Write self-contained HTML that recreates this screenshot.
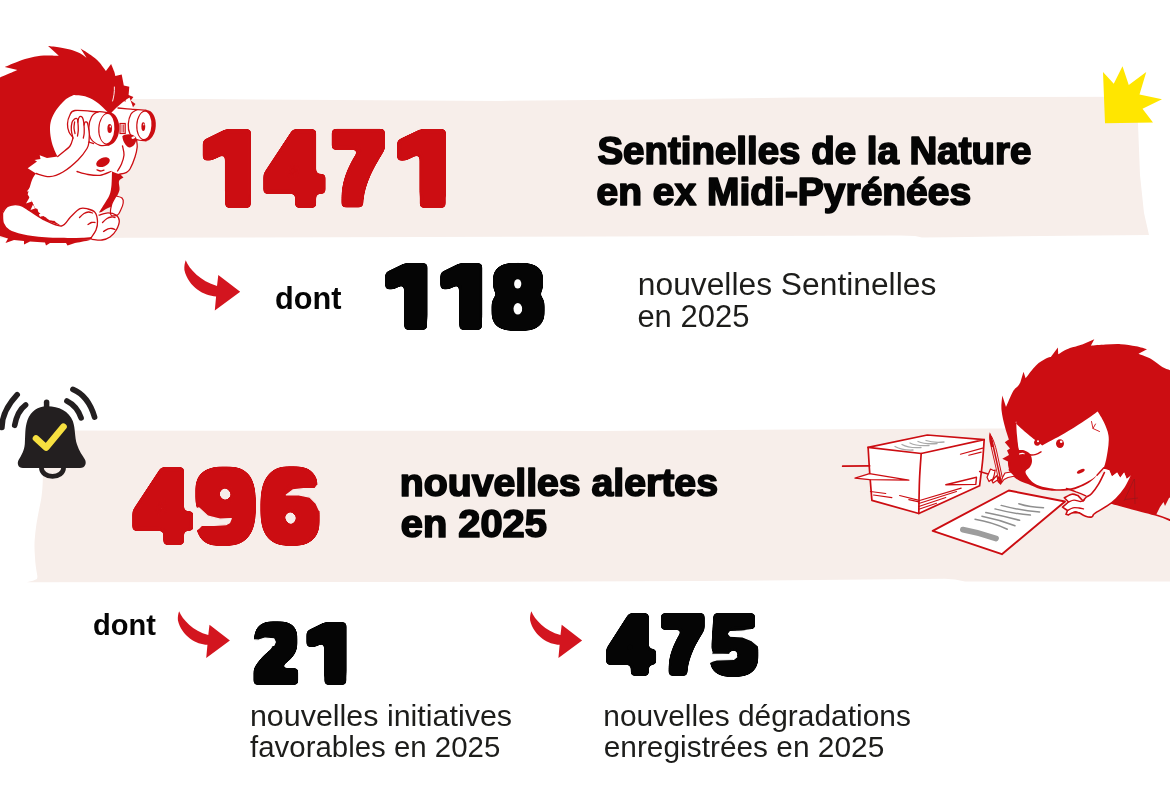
<!DOCTYPE html>
<html lang="fr"><head><meta charset="utf-8"><title>Sentinelles de la Nature</title>
<style>html,body{margin:0;padding:0;background:#fff;overflow:hidden}svg{display:block}text{font-family:"Liberation Sans",sans-serif}</style>
</head><body>
<svg width="1170" height="800" viewBox="0 0 1170 800">
<path d="M0,99.2 L200,99.1 L500,100.9 L650,99.4 L800,97.5 L1137,96.7 L1138,124 L1140,175 L1144,213 L1149,235 L1000,236.5 L950,237.3 L922,237.6 L915,235.9 L900,235.4 L700,236.2 L130,237.8 L0,238.2 Z" fill="#f7eeea"/>
<path d="M44,430.6 L600,430.9 L800,429.6 L1000,428.5 L1170,428 L1170,581.5 L965,581.5 L955,579.6 L945,578.7 L700,581 L400,582 L26.5,582.3 L33,580.8 L37,579 C37.6,577 37.4,576 37,574 C36,568 35.2,563 35,557.5 C34.6,552 34.3,546 34.6,541 C35,535.5 35.6,530 36.3,525 C37.2,519.5 38.2,514 39.2,509 C40.5,503 41.6,497.5 42,492.5 C42.5,488 42.7,484 42.8,480 C43,476 43,473 43,470 Z" fill="#f7eeea"/>
<polygon points="1103,72 1113.75,83.75 1122.5,66.25 1128.75,85 1146.25,72 1139.5,94.5 1162,99.25 1142.5,108.75 1153,122.5 1105,123.25" fill="#ffe600"/>
<path transform="translate(184.4,260.3) scale(1.0)" d="M1.3,0 C5,9 16,21 32.6,25.6 L33.9,14.6 L55.8,31.5 L30.4,50.1 L31.7,36.1 C20,36 4,27 0,9.8 C-0.3,6 0.3,3 1.3,0 Z" fill="#d3151f"/>
<path transform="translate(177.9,611.2) scale(0.932)" d="M1.3,0 C5,9 16,21 32.6,25.6 L33.9,14.6 L55.8,31.5 L30.4,50.1 L31.7,36.1 C20,36 4,27 0,9.8 C-0.3,6 0.3,3 1.3,0 Z" fill="#d3151f"/>
<path transform="translate(530.1,611.2) scale(0.932)" d="M1.3,0 C5,9 16,21 32.6,25.6 L33.9,14.6 L55.8,31.5 L30.4,50.1 L31.7,36.1 C20,36 4,27 0,9.8 C-0.3,6 0.3,3 1.3,0 Z" fill="#d3151f"/>
<g fill="none" stroke="#231f20" stroke-linecap="round" stroke-width="5.6"><path d="M17.2,394.7 Q2,411 1.9,427.5"/><path d="M25.6,405 Q17.35,411 14.7,425.3"/><path d="M72.9,389.4 Q88.25,395.75 94.6,417.1"/><path d="M66.9,401 Q77,406 81.1,417.9"/><path d="M46.6,402.2 L46.6,408" stroke-width="5.5"/><path d="M41.5,468.3 A11,8.1 0 0 0 63.5,468.3" stroke-width="4.8"/></g>
<path d="M46.5,406.3 C58,406 69,411 72.9,421.3 C75.5,429 74.5,437 77,444.6 C79,451 82.5,455.6 84.9,459.5 C86.8,463 85.5,468 80,468 L23,468 C18,468 16.8,463.5 18.6,460 C21.5,455 24.2,451 24.8,444 C25.5,434 24.8,428 27.5,419.9 C31,411 38,406.5 46.5,406.3 Z" fill="#231f20"/>
<path d="M36,438.4 L46.1,447.6 L63.5,426.7" fill="none" stroke="#f7e040" stroke-width="6.6" stroke-linecap="round" stroke-linejoin="round"/>
<path d="M0.0,77.5 C1.3,76.9 5.1,75.2 8.0,74.0 C10.9,72.8 15.9,70.7 17.5,70.0 L4.8,66.9 C7.1,66.0 14.3,62.8 18.8,61.2 C23.2,59.7 27.1,58.4 31.2,57.5 C35.4,56.6 39.2,55.9 43.8,55.6 C48.3,55.3 56.2,55.8 58.8,55.8 L48.1,46.0 C50.1,46.2 56.4,46.9 60.0,47.5 C63.6,48.1 66.7,48.6 70.0,49.6 C73.3,50.6 77.2,51.9 80.0,53.3 C82.8,54.7 85.4,57.0 86.5,57.8 L80.6,48.6 C82.3,49.7 87.7,52.9 90.8,55.1 C93.9,57.3 96.5,59.4 99.0,62.0 C101.5,64.7 104.8,69.5 105.9,71.0 L111.1,64.1 C111.6,65.3 113.5,69.6 114.2,71.6 C114.9,73.6 115.1,75.3 115.3,76.0 L121.7,74.4 L123.8,85.4 L129.3,86.8 L128.6,95.0 L133.4,97.0 L130.7,100.5 L135.5,104.0 L132.0,108.5 C130.8,110.4 127.0,113.1 125.0,120.0 C123.0,126.9 121.2,141.3 120.0,150.0 C118.8,158.7 118.3,168.3 118.0,172.0 L123.5,177.5 C122.8,178.1 119.7,178.9 119.0,181.0 C118.3,183.1 120.0,187.2 119.5,190.0 C119.0,192.8 117.0,195.8 116.0,198.0 C115.0,200.2 113.9,202.2 113.5,203.0 L111.5,206.5 C110.6,206.9 107.9,207.9 106.0,209.0 C104.1,210.1 101.0,212.3 100.0,213.0 C100.0,216.8 101.7,231.5 100.0,236.0 C98.3,240.5 94.2,238.8 90.0,240.0 C85.8,241.2 77.5,242.5 75.0,243.0 L67.5,245.5 L66.0,243.0 L50.0,243.0 L46.0,245.5 L45.0,242.5 L30.0,241.5 L24.0,244.5 L24.0,241.0 L14.0,240.0 L5.5,243.0 L8.0,238.5 L0.0,236.0 L0.0,77.5 Z" fill="#cc0d12"/>
<path d="M73.8,95.0 C75.6,95.2 81.5,95.3 85.0,96.3 C88.5,97.3 92.0,99.1 95.0,101.0 C98.0,102.9 100.5,105.2 103.0,107.5 C105.5,109.8 108.8,113.3 110.0,114.5 C111.0,113.4 113.8,110.1 116.0,108.0 C118.2,105.9 120.8,103.8 123.0,102.0 C125.2,100.2 128.4,98.2 129.5,97.5 C129.8,98.4 130.8,101.1 131.5,103.0 C132.2,104.9 133.2,108.0 133.5,109.0 C134.2,109.1 135.9,109.4 138.0,109.5 C140.1,109.6 143.7,109.0 146.0,109.8 C148.3,110.5 150.4,111.5 152.0,114.0 C153.6,116.5 155.3,121.3 155.5,125.0 C155.7,128.7 154.4,133.3 153.0,136.0 C151.6,138.7 149.2,140.1 147.0,141.0 C144.8,141.9 141.7,140.5 140.0,141.5 C138.3,142.5 137.8,144.4 137.0,147.0 C136.2,149.6 136.2,153.3 135.0,157.0 C133.8,160.7 131.5,166.4 130.0,169.0 C128.5,171.6 127.8,171.7 126.0,172.5 C124.2,173.3 121.3,174.2 119.0,174.0 C116.7,173.8 113.2,171.9 112.0,171.5 C111.9,173.8 111.9,181.1 111.5,185.0 C111.1,188.9 110.8,191.8 109.5,195.0 C108.2,198.2 105.8,201.6 104.0,204.5 C102.2,207.4 99.8,211.2 99.0,212.5 C100.5,212.5 105.2,212.1 108.0,212.5 C110.8,212.9 114.1,213.6 116.0,215.0 C117.9,216.4 119.4,218.5 119.5,221.0 C119.6,223.5 118.1,227.3 116.5,230.0 C114.9,232.7 112.4,235.3 110.0,237.0 C107.6,238.7 104.8,239.9 102.0,240.3 C99.2,240.7 96.0,239.7 93.0,239.5 C90.0,239.3 88.2,239.3 84.0,239.2 C79.8,239.1 74.0,239.2 67.5,239.0 C61.0,238.8 52.5,238.9 45.0,238.3 C37.5,237.7 28.5,236.6 22.5,235.3 C16.5,234.1 12.2,232.8 9.0,230.8 C5.8,228.8 4.1,226.3 3.0,223.5 C1.9,220.7 1.5,216.8 2.2,214.0 C3.0,211.2 4.6,208.1 7.5,206.6 C10.4,205.1 15.8,204.3 19.5,205.0 C23.2,205.7 28.2,210.0 30.0,211.0 C30.8,210.5 34.1,209.5 34.5,208.0 C34.9,206.5 32.6,203.0 32.2,202.0 L27.7,194.5 C28.4,192.0 30.8,183.0 32.2,179.5 C33.6,176.0 35.4,174.5 36.0,173.5 L27.7,168.2 L37.0,161.5 L34.5,160.0 L40.5,159.0 L39.7,155.2 L47.0,158.0 L57.7,156.5 C57.3,155.8 56.5,154.9 55.5,152.5 C54.5,150.1 52.6,145.8 51.7,142.0 C50.8,138.2 50.1,133.7 50.0,130.0 C49.9,126.3 50.2,123.3 51.2,120.0 C52.3,116.7 54.0,113.3 56.2,110.0 C58.5,106.7 62.1,102.5 65.0,100.0 C67.9,97.5 72.3,95.8 73.8,95.0 Z" fill="#fff"/>
<path d="M116.0,196.0 C117.0,196.3 120.8,196.8 122.0,198.0 C123.2,199.2 123.5,200.9 123.2,203.0 C123.0,205.1 121.5,208.5 120.5,210.5 C119.5,212.5 119.1,214.2 117.5,215.0 C115.9,215.8 112.0,216.7 111.0,215.0 C110.0,213.3 110.7,208.2 111.5,205.0 C112.3,201.8 115.2,197.5 116.0,196.0 Z" fill="#fff" stroke="#cc0d12" stroke-width="1.2"/>
<path d="M30,211 L32.2,202 L34.5,208 L37.5,209 L39.7,217 L43.5,216 L49.5,220.3 L55,221.8 L61.5,226 L45,220.3 Z" fill="#cc0d12"/>
<path d="M98.0,112.0 C94.2,111.8 79.8,109.8 75.0,110.5 C70.2,111.2 70.8,113.8 69.5,116.0 C68.2,118.2 67.6,121.3 67.5,124.0 C67.4,126.7 68.1,129.8 69.0,132.0 C69.9,134.2 72.3,136.6 73.0,137.5 " fill="none" stroke="#cc0d12" stroke-width="1.3" stroke-linecap="round" stroke-linejoin="round"/>
<path d="M108.0,112.6 C106.3,112.5 100.8,111.1 98.0,111.8 C95.2,112.5 93.0,114.3 91.5,117.0 C90.0,119.7 88.9,124.3 88.8,128.0 C88.7,131.7 89.1,136.1 91.0,139.0 C92.9,141.9 97.0,144.3 100.0,145.3 C103.0,146.3 107.5,145.1 109.0,145.0 " fill="none" stroke="#cc0d12" stroke-width="1.3" stroke-linecap="round" stroke-linejoin="round"/>
<ellipse cx="108.7" cy="128.7" rx="10.5" ry="16.5" fill="#cc0d12" transform="rotate(3 108.7 128.7)"/>
<ellipse cx="106.9" cy="128.7" rx="7.5" ry="14.7" fill="#fff" transform="rotate(3 106.9 128.7)"/>
<ellipse cx="109.7" cy="128.6" rx="2.3" ry="4.5" fill="#cc0d12"/><ellipse cx="110.3" cy="126.6" rx="0.7" ry="1.1" fill="#fff"/>
<path d="M85.5,139.5 C86.1,139.9 87.7,141.3 89.0,142.0 C90.3,142.7 92.8,143.3 93.5,143.6 " fill="none" stroke="#cc0d12" stroke-width="1.3" stroke-linecap="round" stroke-linejoin="round"/>
<rect x="120" y="123.5" width="5.2" height="10" fill="#fff" stroke="#cc0d12" stroke-width="1.2"/><path d="M122,124.5V132.5M123.6,124.5V132.5" stroke="#cc0d12" stroke-width="0.8"/>
<path d="M118.0,108.0 C120.2,108.2 126.3,108.8 131.0,109.2 C135.7,109.6 143.5,110.0 146.0,110.2 " fill="none" stroke="#cc0d12" stroke-width="1.3" stroke-linecap="round" stroke-linejoin="round"/>
<path d="M137.0,109.6 C136.0,110.3 132.4,111.6 131.0,114.0 C129.6,116.4 128.5,120.7 128.3,124.0 C128.1,127.3 128.6,131.4 130.0,134.0 C131.4,136.6 133.8,138.4 136.5,139.5 C139.2,140.6 144.4,140.6 146.0,140.8 " fill="none" stroke="#cc0d12" stroke-width="1.3" stroke-linecap="round" stroke-linejoin="round"/>
<ellipse cx="146" cy="125.4" rx="9.8" ry="15.5" fill="#cc0d12" transform="rotate(3 146 125.4)"/>
<ellipse cx="144.4" cy="125.4" rx="7" ry="13.7" fill="#fff" transform="rotate(3 144.4 125.4)"/>
<ellipse cx="143.3" cy="126.6" rx="1.9" ry="4.4" fill="#cc0d12"/><ellipse cx="143.8" cy="124.6" rx="0.6" ry="1" fill="#fff"/>
<path d="M122.3,136.2 C125,133.6 133.5,133.3 136.2,137.8 C136.8,143 133.2,147.2 129.3,147.6 C125.6,146.4 122.8,141 122.3,136.2Z" fill="#cc0d12"/><ellipse cx="133.3" cy="137.6" rx="2" ry="1.2" fill="#fff" transform="rotate(-15 133.3 137.6)"/>
<ellipse cx="103" cy="162.2" rx="7.2" ry="4.3" fill="#cc0d12" transform="rotate(-24 103 162.2)"/>
<path d="M97.0,169.8 C97.6,170.0 99.3,170.9 100.5,171.0 C101.7,171.1 103.4,170.3 104.0,170.2 " fill="none" stroke="#cc0d12" stroke-width="1.3" stroke-linecap="round" stroke-linejoin="round"/>
<path d="M77.0,171.5 C78.8,172.0 84.2,173.9 88.0,174.5 C91.8,175.1 96.2,175.8 100.0,175.3 C103.8,174.8 109.2,172.1 111.0,171.5 " fill="none" stroke="#cc0d12" stroke-width="1.3" stroke-linecap="round" stroke-linejoin="round"/>
<path d="M73.0,138.0 C72.7,136.7 71.5,132.6 71.3,130.0 C71.1,127.4 71.5,124.3 72.0,122.5 C72.5,120.7 73.4,120.0 74.2,119.3 C75.0,118.6 76.2,118.2 76.8,118.5 C77.4,118.8 77.6,120.6 77.8,121.0 C78.0,120.4 78.4,118.2 79.0,117.5 C79.6,116.8 80.8,116.3 81.5,116.6 C82.2,116.9 82.8,118.3 83.2,119.5 C83.6,120.7 83.9,123.2 84.0,124.0 C84.2,123.7 84.7,122.2 85.2,122.0 C85.7,121.8 86.7,121.8 87.2,122.5 C87.7,123.2 87.9,124.1 88.2,126.0 C88.5,127.9 89.2,131.3 89.3,134.0 C89.4,136.7 89.0,140.7 89.0,142.0 C87.5,142.2 82.7,143.7 80.0,143.0 C77.3,142.3 74.2,138.8 73.0,138.0 Z" fill="#fff"/>
<path d="M73.0,138.0 C72.7,136.7 71.5,132.6 71.3,130.0 C71.1,127.4 71.5,124.3 72.0,122.5 C72.5,120.7 73.4,120.0 74.2,119.3 C75.0,118.6 76.2,118.2 76.8,118.5 C77.4,118.8 77.5,119.1 77.8,121.0 C78.0,122.9 78.3,127.5 78.3,130.0 C78.2,132.5 77.6,135.0 77.5,136.0 " fill="none" stroke="#cc0d12" stroke-width="1.3" stroke-linecap="round" stroke-linejoin="round"/>
<path d="M77.8,122.0 C78.0,121.2 78.4,118.4 79.0,117.5 C79.6,116.6 80.8,116.3 81.5,116.6 C82.2,116.9 82.8,118.1 83.2,119.5 C83.6,120.9 83.8,122.8 84.0,125.0 C84.2,127.2 84.3,130.8 84.2,133.0 C84.1,135.2 83.5,137.2 83.3,138.0 " fill="none" stroke="#cc0d12" stroke-width="1.3" stroke-linecap="round" stroke-linejoin="round"/>
<path d="M84.0,125.0 C84.2,124.5 84.7,122.4 85.2,122.0 C85.7,121.6 86.7,121.8 87.2,122.5 C87.7,123.2 87.9,124.1 88.2,126.0 C88.5,127.9 89.2,131.3 89.3,134.0 C89.4,136.7 89.0,140.7 89.0,142.0 " fill="none" stroke="#cc0d12" stroke-width="1.3" stroke-linecap="round" stroke-linejoin="round"/>
<path d="M74.6,122.0 C74.5,123.0 73.9,126.1 74.0,128.0 C74.1,129.9 74.8,132.6 75.0,133.5 " fill="none" stroke="#cc0d12" stroke-width="1.3" stroke-linecap="round" stroke-linejoin="round"/>
<path d="M73.0,138.0 C72.5,139.3 71.8,143.5 70.0,146.0 C68.2,148.5 64.0,151.2 62.0,153.0 C60.0,154.8 58.4,155.9 57.7,156.5 " fill="none" stroke="#cc0d12" stroke-width="1.3" stroke-linecap="round" stroke-linejoin="round"/>
<path d="M89.0,142.0 C88.7,143.1 88.8,145.5 87.0,148.5 C85.2,151.5 82.0,156.1 78.0,160.0 C74.0,163.9 67.8,169.2 63.0,172.0 C58.2,174.8 54.0,176.4 49.5,176.7 C45.0,176.9 38.2,174.0 36.0,173.5 " fill="none" stroke="#cc0d12" stroke-width="1.3" stroke-linecap="round" stroke-linejoin="round"/>
<path d="M136.5,139.5 C136.6,140.8 137.4,144.1 137.2,147.0 C136.9,149.9 136.2,153.3 135.0,157.0 C133.8,160.7 131.5,166.4 130.0,169.0 C128.5,171.6 127.8,171.7 126.0,172.6 C124.2,173.5 120.2,174.0 119.0,174.3 " fill="none" stroke="#cc0d12" stroke-width="1.3" stroke-linecap="round" stroke-linejoin="round"/>
<path d="M122.5,146.0 C122.8,147.5 124.2,152.0 124.0,155.0 C123.8,158.0 122.6,161.3 121.5,164.0 C120.4,166.7 118.2,169.8 117.5,171.0 " fill="none" stroke="#cc0d12" stroke-width="1.3" stroke-linecap="round" stroke-linejoin="round"/>
<path d="M2.2,214.0 C3.1,212.8 4.6,208.0 7.5,206.5 C10.4,205.0 15.8,204.2 19.5,205.0 C23.2,205.8 25.8,208.5 30.0,211.0 C34.2,213.5 39.8,217.7 45.0,220.2 C50.2,222.7 57.2,226.5 61.5,226.0 C65.8,225.5 67.4,219.9 70.5,217.0 C73.6,214.1 77.1,210.0 80.0,208.7 C82.9,207.4 85.5,208.4 88.0,209.0 C90.5,209.6 93.4,210.3 95.0,212.3 C96.6,214.3 97.3,218.1 97.5,221.0 C97.7,223.9 97.1,227.2 96.0,230.0 C94.9,232.8 91.8,236.7 91.0,238.0 " fill="none" stroke="#cc0d12" stroke-width="1.3" stroke-linecap="round" stroke-linejoin="round"/>
<path d="M2.2,214.0 C2.3,215.6 1.9,220.5 3.0,223.3 C4.1,226.1 5.8,228.6 9.0,230.6 C12.2,232.6 16.5,233.9 22.5,235.2 C28.5,236.5 37.5,237.6 45.0,238.2 C52.5,238.8 61.0,238.8 67.5,238.9 C74.0,239.0 80.1,238.8 84.0,238.7 C87.9,238.5 89.8,238.1 91.0,238.0 " fill="none" stroke="#cc0d12" stroke-width="2" stroke-linecap="round" stroke-linejoin="round"/>
<path d="M79.5,217.5 C80.2,216.8 82.5,214.4 84.0,213.5 C85.5,212.6 87.1,212.1 88.5,212.0 C89.9,211.9 91.8,212.8 92.5,213.0 " fill="none" stroke="#cc0d12" stroke-width="1.3" stroke-linecap="round" stroke-linejoin="round"/>
<path d="M88.0,224.5 C88.6,224.2 90.3,222.8 91.5,222.5 C92.7,222.2 94.4,222.5 95.0,222.5 " fill="none" stroke="#cc0d12" stroke-width="1.3" stroke-linecap="round" stroke-linejoin="round"/>
<path d="M99.0,215.2 C100.5,214.8 105.2,212.8 108.0,212.8 C110.8,212.8 114.1,213.6 116.0,215.0 C117.9,216.4 119.2,218.5 119.3,221.0 C119.3,223.5 117.8,227.3 116.3,230.0 C114.8,232.7 112.4,235.3 110.0,237.0 C107.6,238.7 105.0,239.6 102.0,240.0 C99.0,240.4 93.7,239.4 92.0,239.3 " fill="none" stroke="#cc0d12" stroke-width="1.3" stroke-linecap="round" stroke-linejoin="round"/>
<path d="M102.5,222.5 C103.2,221.8 105.5,219.4 107.0,218.5 C108.5,217.6 110.2,217.2 111.5,217.0 C112.8,216.8 114.4,217.4 115.0,217.5 " fill="none" stroke="#cc0d12" stroke-width="1.3" stroke-linecap="round" stroke-linejoin="round"/>
<path d="M103.5,231.5 C104.2,231.1 106.6,229.3 108.0,228.8 C109.4,228.3 110.8,228.4 112.0,228.5 C113.2,228.6 114.5,229.3 115.0,229.5 " fill="none" stroke="#cc0d12" stroke-width="1.3" stroke-linecap="round" stroke-linejoin="round"/>
<path d="M114.4,87 C114.6,92 113.8,97 112.6,101" fill="none" stroke="#fff" stroke-width="0.9" stroke-linecap="round"/>
<path d="M116.5,104.0 C117.2,103.4 119.5,101.0 121.0,100.5 C122.5,100.0 124.8,100.9 125.5,101.0 " fill="none" stroke="#cc0d12" stroke-width="1" stroke-linecap="round" stroke-linejoin="round"/>
<path d="M32,185 L26.8,191.5 L31.2,191 Z M30.3,196 L26,203.5 L31.8,201.5 Z M33,204.5 L30.5,210 L35,208.5Z" fill="#fff"/>
<path d="M35.5,210.5 L40.5,213.5 L37.2,215.2 Z M41,216.5 L46.5,217.8 L44,219.8 Z M50,220.5 L55.5,221 L53.5,223 Z" fill="#cc0d12"/>
<path d="M868.1,447.3 L927.3,435 L984.2,439.6 L979.6,485.8 L918.8,513.5 L871.9,500.4 Z" fill="#fff"/>
<g fill="none" stroke="#a9a9a9" stroke-width="1.3" stroke-linecap="round"><path d="M895,446.5 Q902,450.5 913,450"/><path d="M902,444.5 Q909,448.5 921,447.5"/><path d="M910,443 Q917,446.5 929,445.5"/><path d="M918,441.5 Q925,444.5 937,443.5"/><path d="M926,440.5 Q933,443 944,442"/></g>
<path d="M868.1,447.3 L927.3,435.0 L984.2,439.6 L921.2,453.5 L868.1,447.3 " fill="none" stroke="#cc0d12" stroke-width="1.7" stroke-linecap="round" stroke-linejoin="round"/>
<path d="M868.1,447.3 C868.3,451.1 868.9,461.1 869.5,470.0 C870.1,478.9 871.5,495.3 871.9,500.4 L918.8,513.5 C918.9,507.9 919.1,490.0 919.5,480.0 C919.9,470.0 920.9,457.9 921.2,453.5 " fill="none" stroke="#cc0d12" stroke-width="1.7" stroke-linecap="round" stroke-linejoin="round"/>
<path d="M984.2,439.6 C983.9,443.3 983.3,454.3 982.5,462.0 C981.7,469.7 980.1,481.8 979.6,485.8 L918.8,513.5 " fill="none" stroke="#cc0d12" stroke-width="1.7" stroke-linecap="round" stroke-linejoin="round"/>
<path d="M842.7,466.2 L869.6,465.8 " fill="none" stroke="#cc0d12" stroke-width="1.8" stroke-linecap="round" stroke-linejoin="round"/>
<path d="M855,478.1 L869.5,473.6 L908.8,480.1 L869.5,479.6 Z" fill="#fff" stroke="#cc0d12" stroke-width="1.4" stroke-linejoin="round"/>
<path d="M945.8,484.7 L976.5,477.3 L975.8,484.4 Z" fill="#fff" stroke="#cc0d12" stroke-width="1.4" stroke-linejoin="round"/>
<path d="M870.4,491.5 L885.8,493.5" stroke="#cc0d12" stroke-width="1.1" stroke-linecap="round"/>
<path d="M873.5,495.0 L891.9,497.6" stroke="#cc0d12" stroke-width="1.1" stroke-linecap="round"/>
<path d="M899.6,495.5 L918.1,500.1" stroke="#cc0d12" stroke-width="1.1" stroke-linecap="round"/>
<path d="M908.8,499.6 L918.8,501.9" stroke="#cc0d12" stroke-width="1.1" stroke-linecap="round"/>
<path d="M960.4,454.2 L982.7,448.1" stroke="#cc0d12" stroke-width="1.1" stroke-linecap="round"/>
<path d="M968.8,455.3 L981.2,452.1" stroke="#cc0d12" stroke-width="1.1" stroke-linecap="round"/>
<path d="M918.8,500.7 L961.2,488.1" stroke="#cc0d12" stroke-width="1.1" stroke-linecap="round"/>
<path d="M918.8,503.5 L956.5,491.5" stroke="#cc0d12" stroke-width="1.1" stroke-linecap="round"/>
<path d="M918.8,506.5 L945.8,497.6" stroke="#cc0d12" stroke-width="1.1" stroke-linecap="round"/>
<path d="M918.8,509.3 L936.5,503.2" stroke="#cc0d12" stroke-width="1.1" stroke-linecap="round"/>
<path d="M979.6,471.5 L988.0,474.0 " fill="none" stroke="#cc0d12" stroke-width="1.4" stroke-linecap="round" stroke-linejoin="round"/>
<path d="M1008.8,490.5 L1065,501.5 L1001.9,554.2 L932.7,530.8 Z" fill="#fff" stroke="#cc0d12" stroke-width="1.9" stroke-linejoin="round"/>
<g fill="none" stroke="#8f8f8f" stroke-width="1.5" stroke-linecap="round"><path d="M1018.8,503.8 Q1030,507.5 1043.5,507.7"/><path d="M1001.2,505.4 Q1020,510.5 1039.6,512"/><path d="M995,508.9 Q1012,513.5 1030.4,515.1"/><path d="M985.8,512.6 Q1003,516 1019.6,520.3"/><path d="M981.9,516.2 Q999,519.5 1015,525.8"/><path d="M975,519.2 Q992,522 1007.3,529.2"/></g>
<path d="M962.9,529.6 Q979,532.5 996,538.4" fill="none" stroke="#9d9d9d" stroke-width="5.8" stroke-linecap="round"/>
<path d="M1011.5,447.0 C1010.5,443.9 1007.1,434.7 1005.4,428.5 C1003.7,422.3 1002.0,415.5 1001.5,410.0 C1001.0,404.5 1002.2,397.8 1002.3,395.4 L1006.0,407.0 C1007.2,404.4 1011.0,395.0 1013.0,391.5 C1015.0,388.0 1016.8,387.5 1018.0,386.0 C1019.2,384.5 1019.9,383.1 1020.3,382.5 L1023.5,371.8 L1025.6,378.3 C1027.3,376.1 1032.6,368.7 1036.0,365.4 C1039.4,362.1 1043.5,359.9 1046.0,358.5 C1048.5,357.1 1050.0,357.2 1050.8,357.0 L1057.9,347.5 L1058.2,354.3 C1059.7,353.4 1063.5,350.7 1067.0,349.2 C1070.5,347.7 1076.5,346.3 1079.0,345.5 C1081.5,344.7 1081.8,344.8 1082.3,344.6 L1094.3,339.2 L1090.8,345.7 C1093.2,345.5 1100.4,344.9 1105.4,344.6 C1110.4,344.4 1115.7,343.9 1120.8,344.2 C1125.9,344.5 1131.6,345.4 1136.0,346.2 C1140.4,347.0 1145.2,348.7 1147.0,349.2 L1138.5,353.8 C1140.7,354.7 1147.5,357.0 1151.5,359.2 C1155.5,361.4 1159.0,365.1 1162.3,367.0 C1165.5,368.9 1169.5,369.9 1171.0,370.5 L1171.0,497.0 L1169.0,498.0 L1165.0,506.0 L1163.5,502.0 L1160.0,507.0 L1156.0,515.0 L1111.0,503.0 C1111.9,502.3 1113.9,501.2 1116.2,498.7 C1118.5,496.2 1122.4,492.2 1125.0,488.2 C1127.6,484.2 1130.8,476.9 1132.0,474.7 L1126.7,479.0 L1124.1,472.5 L1120.2,477.7 L1117.1,472.5 L1111.9,476.4 L1109.2,470.3 L1102.5,468.5 C1102.1,468.4 1103.8,467.1 1100.0,468.0 C1096.2,468.9 1088.3,472.7 1080.0,474.0 C1071.7,475.3 1057.7,477.0 1050.0,476.0 C1042.3,475.0 1038.3,471.0 1034.0,468.0 C1029.7,465.0 1026.7,461.0 1024.0,458.0 C1021.3,455.0 1019.0,451.3 1018.0,450.0 L1011.5,447.0 Z" fill="#cc0d12"/>
<path d="M1111.0,503.0 C1118.5,505.0 1146.0,512.1 1156.0,515.0 C1166.0,517.9 1168.5,519.6 1171.0,520.5 " fill="none" stroke="#cc0d12" stroke-width="1.8" stroke-linecap="round" stroke-linejoin="round"/>
<path d="M1016.2,421.0 C1016.3,421.6 1014.7,422.1 1017.0,424.6 C1019.3,427.1 1025.8,432.5 1030.0,436.0 C1034.2,439.5 1040.2,443.8 1042.3,445.4 C1045.9,443.5 1057.1,437.6 1063.8,433.8 C1070.5,430.0 1076.6,426.0 1082.3,422.3 C1088.0,418.6 1095.1,413.3 1097.7,411.5 C1098.7,413.2 1102.0,418.0 1103.8,422.0 C1105.6,426.0 1107.8,430.6 1108.5,435.4 C1109.2,440.2 1108.5,445.4 1107.7,450.8 C1106.9,456.2 1105.6,463.5 1103.8,467.7 C1102.0,471.9 1099.3,473.8 1097.0,476.0 C1094.7,478.2 1093.7,479.1 1090.0,481.2 C1086.3,483.2 1080.0,486.8 1075.0,488.3 C1070.0,489.8 1064.2,489.8 1060.0,490.0 C1055.8,490.2 1053.3,489.7 1050.0,489.3 C1046.7,488.9 1043.3,488.9 1040.0,487.5 C1036.7,486.1 1032.7,483.9 1030.0,481.0 C1027.3,478.1 1025.8,475.0 1024.0,470.0 C1022.2,465.0 1020.2,456.6 1019.0,450.8 C1017.8,445.0 1017.5,440.4 1017.0,435.4 C1016.5,430.4 1016.3,423.4 1016.2,421.0 Z" fill="#fff"/>
<path d="M1066.4,488.8 L1075,488 L1086,481 L1096,475.5 L1104.4,472.5 L1098.7,483.9 L1091.7,493.5 L1086.5,497 L1076,492.2 Z" fill="#fff"/>
<path d="M1066.4,488.4 C1068.0,489.0 1072.8,490.6 1076.0,491.9 C1079.2,493.1 1084.2,495.2 1085.8,495.9 " fill="none" stroke="#cc0d12" stroke-width="1.4" stroke-linecap="round" stroke-linejoin="round"/>
<path d="M1104.4,472.5 L1102.5,468.5 L1109.2,470.3 L1111.9,476.4 L1117.1,472.5 L1120.2,477.7 L1124.1,472.5 L1126.7,479.0 L1132.0,474.7 C1130.8,476.9 1127.6,484.2 1125.0,488.2 C1122.4,492.2 1119.1,495.8 1116.2,498.7 C1113.3,501.6 1110.7,503.5 1107.5,505.7 C1104.3,507.9 1099.3,510.4 1097.0,511.9 C1094.7,513.4 1094.1,514.1 1093.5,514.5 C1093.2,514.9 1093.0,516.7 1091.7,517.0 C1090.4,517.3 1087.6,516.9 1085.6,516.2 C1083.6,515.5 1080.5,513.5 1079.5,512.9 C1078.3,512.9 1074.3,512.4 1072.5,512.7 C1070.7,513.1 1069.2,514.6 1068.5,515.0 L1066.0,514.3 L1067.5,510.5 L1062.5,507.2 L1068.5,502.0 L1064.3,497.8 C1065.6,497.2 1069.7,494.6 1072.0,494.2 C1074.3,493.8 1077.0,495.4 1078.0,495.6 L1083.0,501.0 C1083.6,500.3 1085.0,498.2 1086.5,497.0 C1088.0,495.8 1089.7,495.7 1091.7,493.5 C1093.7,491.3 1096.6,487.4 1098.7,483.9 C1100.8,480.4 1103.5,474.4 1104.4,472.5 Z" fill="#fff"/>
<path d="M1132.0,474.7 C1130.8,476.9 1127.6,484.2 1125.0,488.2 C1122.4,492.2 1119.1,495.8 1116.2,498.7 C1113.3,501.6 1110.7,503.5 1107.5,505.7 C1104.3,507.9 1099.3,510.4 1097.0,511.9 C1094.7,513.4 1094.1,514.1 1093.5,514.5 C1093.2,514.9 1093.0,516.7 1091.7,517.0 C1090.4,517.3 1087.6,516.9 1085.6,516.2 C1083.6,515.5 1080.5,513.5 1079.5,512.9 C1078.3,512.9 1074.3,512.4 1072.5,512.7 C1070.7,513.1 1069.2,514.6 1068.5,515.0 L1066.0,514.3 L1067.5,510.5 L1062.5,507.2 L1068.5,502.0 L1064.3,497.8 C1065.6,497.2 1069.7,494.6 1072.0,494.2 C1074.3,493.8 1077.0,495.4 1078.0,495.6 L1083.0,501.0 C1083.6,500.3 1085.0,498.2 1086.5,497.0 C1088.0,495.8 1089.7,495.7 1091.7,493.5 C1093.7,491.3 1096.6,487.4 1098.7,483.9 C1100.8,480.4 1103.5,474.4 1104.4,472.5 " fill="none" stroke="#cc0d12" stroke-width="1.6" stroke-linecap="round" stroke-linejoin="round"/>
<path d="M1068.5,502.0 C1069.4,501.7 1072.0,500.3 1074.0,500.2 C1076.0,500.1 1078.8,501.4 1080.5,501.5 C1082.2,501.6 1083.4,500.7 1084.0,500.5 " fill="none" stroke="#cc0d12" stroke-width="1.3" stroke-linecap="round" stroke-linejoin="round"/>
<path d="M1067.5,510.5 C1068.4,510.1 1071.1,508.2 1073.0,507.8 C1074.9,507.4 1077.2,507.8 1079.0,508.0 C1080.8,508.2 1082.8,508.7 1083.5,508.8 " fill="none" stroke="#cc0d12" stroke-width="1.3" stroke-linecap="round" stroke-linejoin="round"/>
<path d="M1072.5,512.7 C1073.0,512.5 1074.3,511.5 1075.5,511.5 C1076.7,511.5 1078.8,512.7 1079.5,512.9 " fill="none" stroke="#cc0d12" stroke-width="1.2" stroke-linecap="round" stroke-linejoin="round"/>
<path d="M1097.0,475.3 L1103.8,467.7 " fill="none" stroke="#cc0d12" stroke-width="1.4" stroke-linecap="round" stroke-linejoin="round"/>
<path d="M1018.0,444.0 C1018.0,444.9 1017.2,448.4 1018.2,449.5 C1019.2,450.6 1022.0,449.6 1024.0,450.3 C1026.0,451.1 1028.7,452.2 1030.0,454.0 C1031.3,455.8 1032.0,458.8 1032.0,461.0 C1032.0,463.2 1031.1,465.2 1030.0,467.0 C1028.9,468.8 1025.8,469.8 1025.5,471.5 C1025.2,473.2 1026.8,475.2 1028.0,477.0 C1029.2,478.8 1031.0,481.0 1033.0,482.5 C1035.0,484.0 1037.2,485.1 1040.0,486.0 C1042.8,486.9 1046.7,487.7 1050.0,488.2 C1053.3,488.7 1055.8,489.3 1060.0,489.2 C1064.2,489.1 1070.0,488.8 1075.0,487.3 C1080.0,485.8 1086.3,482.3 1090.0,480.3 C1093.7,478.3 1095.8,476.1 1097.0,475.3 C1095.8,476.4 1093.7,479.7 1090.0,482.0 C1086.3,484.3 1080.0,487.7 1075.0,489.2 C1070.0,490.7 1064.2,490.6 1060.0,490.8 C1055.8,491.0 1053.3,490.7 1050.0,490.4 C1046.7,490.1 1043.7,490.1 1040.0,489.0 C1036.3,487.9 1031.3,485.3 1028.0,484.0 C1024.7,482.7 1022.3,482.2 1020.0,481.0 C1017.7,479.8 1015.7,478.5 1014.0,477.0 C1012.3,475.5 1011.0,474.5 1010.0,472.0 C1009.0,469.5 1007.7,465.7 1008.0,462.0 C1008.3,458.3 1010.3,452.8 1012.0,450.0 C1013.7,447.2 1017.0,445.8 1018.0,445.0 Z" fill="#cc0d12"/>
<circle cx="1037.2" cy="442.6" r="3.1" fill="#cc0d12"/><circle cx="1038" cy="441.3" r="1" fill="#fff"/>
<ellipse cx="1060" cy="443.6" rx="4" ry="4.4" fill="#cc0d12"/><circle cx="1061.2" cy="441.8" r="1.3" fill="#fff"/>
<ellipse cx="1080.8" cy="471.3" rx="4.2" ry="1.7" fill="#cc0d12" transform="rotate(-24 1080.8 471.3)"/>
<path d="M1091.5,421.5 L1093,428.5 L1099.5,431.5 M1093,428.5 L1095.5,424" fill="none" stroke="#cc0d12" stroke-width="0.9" stroke-linecap="round"/>
<path d="M1017.3,460.5 Q1016.6,455.5 1019.3,454 Q1021.8,453 1024.6,453.6" fill="none" stroke="#fff" stroke-width="1.2" stroke-linecap="round"/>
<path d="M1024.0,452.6 C1025.2,453.0 1028.9,454.7 1031.0,455.0 C1033.1,455.3 1034.8,454.7 1036.5,454.2 C1038.2,453.7 1040.2,452.2 1041.0,451.8 " fill="none" stroke="#cc0d12" stroke-width="1.4" stroke-linecap="round" stroke-linejoin="round"/>
<path d="M1016.0,436.0 L1008.0,440.0 L1004.8,442.2 L1010.0,448.5 L1007.0,450.5 L1009.0,455.0 L1002.3,458.7 L1011.0,463.0 L1008.5,470.0 L1014.0,477.0 L1022.0,470.0 L1016.0,436.0 Z" fill="#cc0d12"/>
<path d="M989.7,432.3 C991,434 992,437 992.8,440.5 L1001.6,480.5 L1000.5,484 L998.6,481.2 L989.5,441.5 C988.9,438 989,434.5 989.7,432.3Z" fill="#cc0d12"/>
<path d="M991.3,436 C993.5,440 995.5,446 996.8,452 L1002.2,477" fill="none" stroke="#cc0d12" stroke-width="1"/>
<path d="M992.2,447 L998.8,476.5" stroke="#f7eeea" stroke-width="0.9" fill="none"/>
<path d="M987.0,477.2 L990.5,469.0 L993.5,470.5 L995.2,470.0 L994.0,476.0 L992.0,481.0 L994.5,478.0 L997.0,475.5 L998.0,481.5 L1000.6,484.2 L1002.5,477.5 L1005.0,473.0 L1011.0,472.0 L1015.0,476.0 L1008.0,477.5 L1004.0,479.5 L1001.0,483.5 L997.5,480.0 L993.0,483.0 L991.5,479.5 L989.0,481.5 L987.0,477.2 Z" fill="#fff" stroke="#cc0d12" stroke-width="1.2" stroke-linejoin="round"/>
<path d="M1134.5,479 L1135,504 M1134.2,479 L1124,501 M1125,499.5 L1138,498" fill="none" stroke="#8a1a1c" stroke-width="0.7" opacity="0.8"/>
<defs><clipPath id="dc1"><rect x="172.7" y="122.04" width="303.30" height="67.39"/><rect x="229.11" y="188.42" width="17.79" height="20.12"/><rect x="298.22" y="188.42" width="14.68" height="20.12"/><rect x="344.58" y="188.42" width="16.20" height="20.12"/><rect x="423.69" y="188.42" width="18.01" height="20.12"/></clipPath><filter id="df1" filterUnits="userSpaceOnUse" x="172.7" y="108.8" width="303.3" height="118.2" color-interpolation-filters="sRGB"><feMorphology operator="dilate" radius="4 4.5"/><feGaussianBlur stdDeviation="2.0"/><feComponentTransfer><feFuncA type="linear" slope="10" intercept="-4.5"/></feComponentTransfer></filter></defs>
<g filter="url(#df1)"><text clip-path="url(#dc1)" y="202.5" font-size="100.58" font-weight="700" fill="#cc0d12"><tspan x="197.53" textLength="74.53" lengthAdjust="spacingAndGlyphs">1</tspan><tspan x="265.67" textLength="56.37" lengthAdjust="spacingAndGlyphs">4</tspan><tspan x="331.44" textLength="53.81" lengthAdjust="spacingAndGlyphs">7</tspan><tspan x="391.72" textLength="75.45" lengthAdjust="spacingAndGlyphs">1</tspan></text></g>
<circle cx="292.9" cy="171" r="2.2" fill="#cc0d12"/>
<text y="163.8" font-size="38" font-weight="700" fill="#050505" x="597.4" textLength="434" lengthAdjust="spacingAndGlyphs" stroke="#050505" stroke-width="1.7" stroke-linejoin="round" stroke-linecap="round" paint-order="stroke" >Sentinelles de la Nature</text>
<text y="204.6" font-size="38" font-weight="700" fill="#050505" x="596.6" textLength="374.5" lengthAdjust="spacingAndGlyphs" stroke="#050505" stroke-width="1.7" stroke-linejoin="round" stroke-linecap="round" paint-order="stroke" >en ex Midi-Pyrénées</text>
<text y="308.7" font-size="31" font-weight="700" fill="#050505" x="275" textLength="66.5" lengthAdjust="spacingAndGlyphs" >dont</text>
<defs><clipPath id="dc2"><rect x="355.5" y="257.36" width="218.70" height="57.65"/><rect x="408.14" y="314.01" width="15.06" height="17.21"/><rect x="463.22" y="314.01" width="14.88" height="17.21"/><rect x="495.92" y="314.01" width="44.25" height="17.21"/></clipPath><filter id="df2" filterUnits="userSpaceOnUse" x="355.5" y="243.5" width="218.7" height="106.2" color-interpolation-filters="sRGB"><feMorphology operator="dilate" radius="3.5 3.5"/><feGaussianBlur stdDeviation="2.0"/><feComponentTransfer><feFuncA type="linear" slope="10" intercept="-4.5"/></feComponentTransfer></filter></defs>
<g filter="url(#df2)"><text clip-path="url(#dc2)" y="326.2" font-size="86.05" font-weight="700" fill="#050505"><tspan x="381.19" textLength="63.49" lengthAdjust="spacingAndGlyphs">1</tspan><tspan x="436.58" textLength="62.76" lengthAdjust="spacingAndGlyphs">1</tspan><tspan x="492.49" textLength="51.03" lengthAdjust="spacingAndGlyphs">8</tspan></text></g>
<ellipse cx="517.7" cy="283.9" rx="3.6" ry="4.7" fill="#fff"/><ellipse cx="517.8" cy="308.8" rx="4.3" ry="5.8" fill="#fff"/>
<text y="294.7" font-size="31" font-weight="400" fill="#1d1d1b" x="637.8" textLength="298.5" lengthAdjust="spacingAndGlyphs" >nouvelles Sentinelles</text>
<text y="327.2" font-size="31" font-weight="400" fill="#1d1d1b" x="637.4" textLength="112" lengthAdjust="spacingAndGlyphs" >en 2025</text>
<defs><clipPath id="dc3"><rect x="102.19999999999999" y="462.04" width="247.60" height="65.54"/><rect x="166.46" y="526.58" width="14.36" height="19.56"/><rect x="201.34" y="526.58" width="46.36" height="19.56"/><rect x="268.09" y="526.58" width="46.29" height="19.56"/></clipPath><filter id="df3" filterUnits="userSpaceOnUse" x="102.2" y="448.5" width="247.6" height="116.3" color-interpolation-filters="sRGB"><feMorphology operator="dilate" radius="4 4.5"/><feGaussianBlur stdDeviation="2.0"/><feComponentTransfer><feFuncA type="linear" slope="10" intercept="-4.5"/></feComponentTransfer></filter></defs>
<g filter="url(#df3)"><text clip-path="url(#dc3)" y="540.3" font-size="97.82" font-weight="700" fill="#cc0d12"><tspan x="134.71" textLength="55.02" lengthAdjust="spacingAndGlyphs">4</tspan><tspan x="195.63" textLength="60.40" lengthAdjust="spacingAndGlyphs">9</tspan><tspan x="260.62" textLength="59.02" lengthAdjust="spacingAndGlyphs">6</tspan></text></g>
<path d="M193.6,509.7 L199.0,507.9 L207.9,516.2 L219.9,519.2 L231.3,518.6 L229.5,522.8 L225.9,524.6 L213.9,525.3 L202.0,525.2 L199.0,528.2 L193.6,531.8Z" fill="#f7eeea" stroke="#f7eeea" stroke-width="1.2" stroke-linejoin="round"/>
<path d="M322.8,483.9 L316.8,485.7 L315.0,488.5 L303.7,488.7 L292.9,489.9 L286.3,494.9 L297.7,494.7 L309.7,497.1 L316.2,503.7 L319.2,510.3 L322.8,510.3Z" fill="#f7eeea" stroke="#f7eeea" stroke-width="1.2" stroke-linejoin="round"/>
<text y="495.7" font-size="38" font-weight="700" fill="#050505" x="399.8" textLength="318.2" lengthAdjust="spacingAndGlyphs" stroke="#050505" stroke-width="1.7" stroke-linejoin="round" stroke-linecap="round" paint-order="stroke" >nouvelles alertes</text>
<text y="536.6" font-size="38" font-weight="700" fill="#050505" x="400.8" textLength="146" lengthAdjust="spacingAndGlyphs" stroke="#050505" stroke-width="1.7" stroke-linejoin="round" stroke-linecap="round" paint-order="stroke" >en 2025</text>
<text y="634.6" font-size="30" font-weight="700" fill="#050505" x="93.1" textLength="62.8" lengthAdjust="spacingAndGlyphs" >dont</text>
<defs><clipPath id="dc4"><rect x="223.8" y="616.75" width="152.40" height="53.56"/><rect x="256.62" y="669.31" width="38.27" height="15.99"/><rect x="328.34" y="669.31" width="14.06" height="15.99"/></clipPath><filter id="df4" filterUnits="userSpaceOnUse" x="223.8" y="602.2" width="152.4" height="102.0" color-interpolation-filters="sRGB"><feMorphology operator="dilate" radius="3.5 3.5"/><feGaussianBlur stdDeviation="2.0"/><feComponentTransfer><feFuncA type="linear" slope="10" intercept="-4.5"/></feComponentTransfer></filter></defs>
<g filter="url(#df4)"><text clip-path="url(#dc4)" y="680.7" font-size="79.94" font-weight="700" fill="#050505"><tspan x="254.64" textLength="42.63" lengthAdjust="spacingAndGlyphs">2</tspan><tspan x="303.09" textLength="59.44" lengthAdjust="spacingAndGlyphs">1</tspan></text></g>
<path d="M253.0,639.8 L258.0,640.2 L265.0,638.0 L273.8,638.8 L275.3,642.0 L273.8,645.5 L253.0,645.5Z" fill="#fff" stroke="#fff" stroke-width="1.2" stroke-linejoin="round"/>
<text y="726.3" font-size="29" font-weight="400" fill="#1d1d1b" x="249.9" textLength="262.2" lengthAdjust="spacingAndGlyphs" >nouvelles initiatives</text>
<text y="756.5" font-size="29" font-weight="400" fill="#1d1d1b" x="250.1" textLength="250.2" lengthAdjust="spacingAndGlyphs" >favorables en 2025</text>
<defs><clipPath id="dc5"><rect x="576.5" y="607.82" width="211.60" height="53.75"/><rect x="634.01" y="660.57" width="11.74" height="16.05"/><rect x="671.67" y="660.57" width="13.14" height="16.05"/><rect x="714.53" y="660.57" width="38.79" height="16.05"/></clipPath><filter id="df5" filterUnits="userSpaceOnUse" x="576.5" y="593.3" width="211.6" height="102.2" color-interpolation-filters="sRGB"><feMorphology operator="dilate" radius="3.5 3.5"/><feGaussianBlur stdDeviation="2.0"/><feComponentTransfer><feFuncA type="linear" slope="10" intercept="-4.5"/></feComponentTransfer></filter></defs>
<g filter="url(#df5)"><text clip-path="url(#dc5)" y="672.0" font-size="80.23" font-weight="700" fill="#050505"><tspan x="608.81" textLength="43.91" lengthAdjust="spacingAndGlyphs">4</tspan><tspan x="661.4" textLength="42.67" lengthAdjust="spacingAndGlyphs">7</tspan><tspan x="711.38" textLength="45.50" lengthAdjust="spacingAndGlyphs">5</tspan></text></g>
<path d="M760.4,630.0 L755.8,630.8 L730.4,631.5 L728.5,633.8 L730.4,636.2 L742.7,636.9 L751.9,640.8 L760.4,647.7Z" fill="#fff" stroke="#fff" stroke-width="1.2" stroke-linejoin="round"/>
<path d="M708.8,653.8 L711.9,654.2 L733.5,654.6 L736.8,656.9 L733.5,659.5 L716.5,660.0 L712.2,661.2 L708.8,663.1Z" fill="#fff" stroke="#fff" stroke-width="1.2" stroke-linejoin="round"/>
<text y="726.3" font-size="29" font-weight="400" fill="#1d1d1b" x="603.3" textLength="307.6" lengthAdjust="spacingAndGlyphs" >nouvelles dégradations</text>
<text y="756.5" font-size="29" font-weight="400" fill="#1d1d1b" x="603.7" textLength="280.6" lengthAdjust="spacingAndGlyphs" >enregistrées en 2025</text>
</svg>
</body></html>
